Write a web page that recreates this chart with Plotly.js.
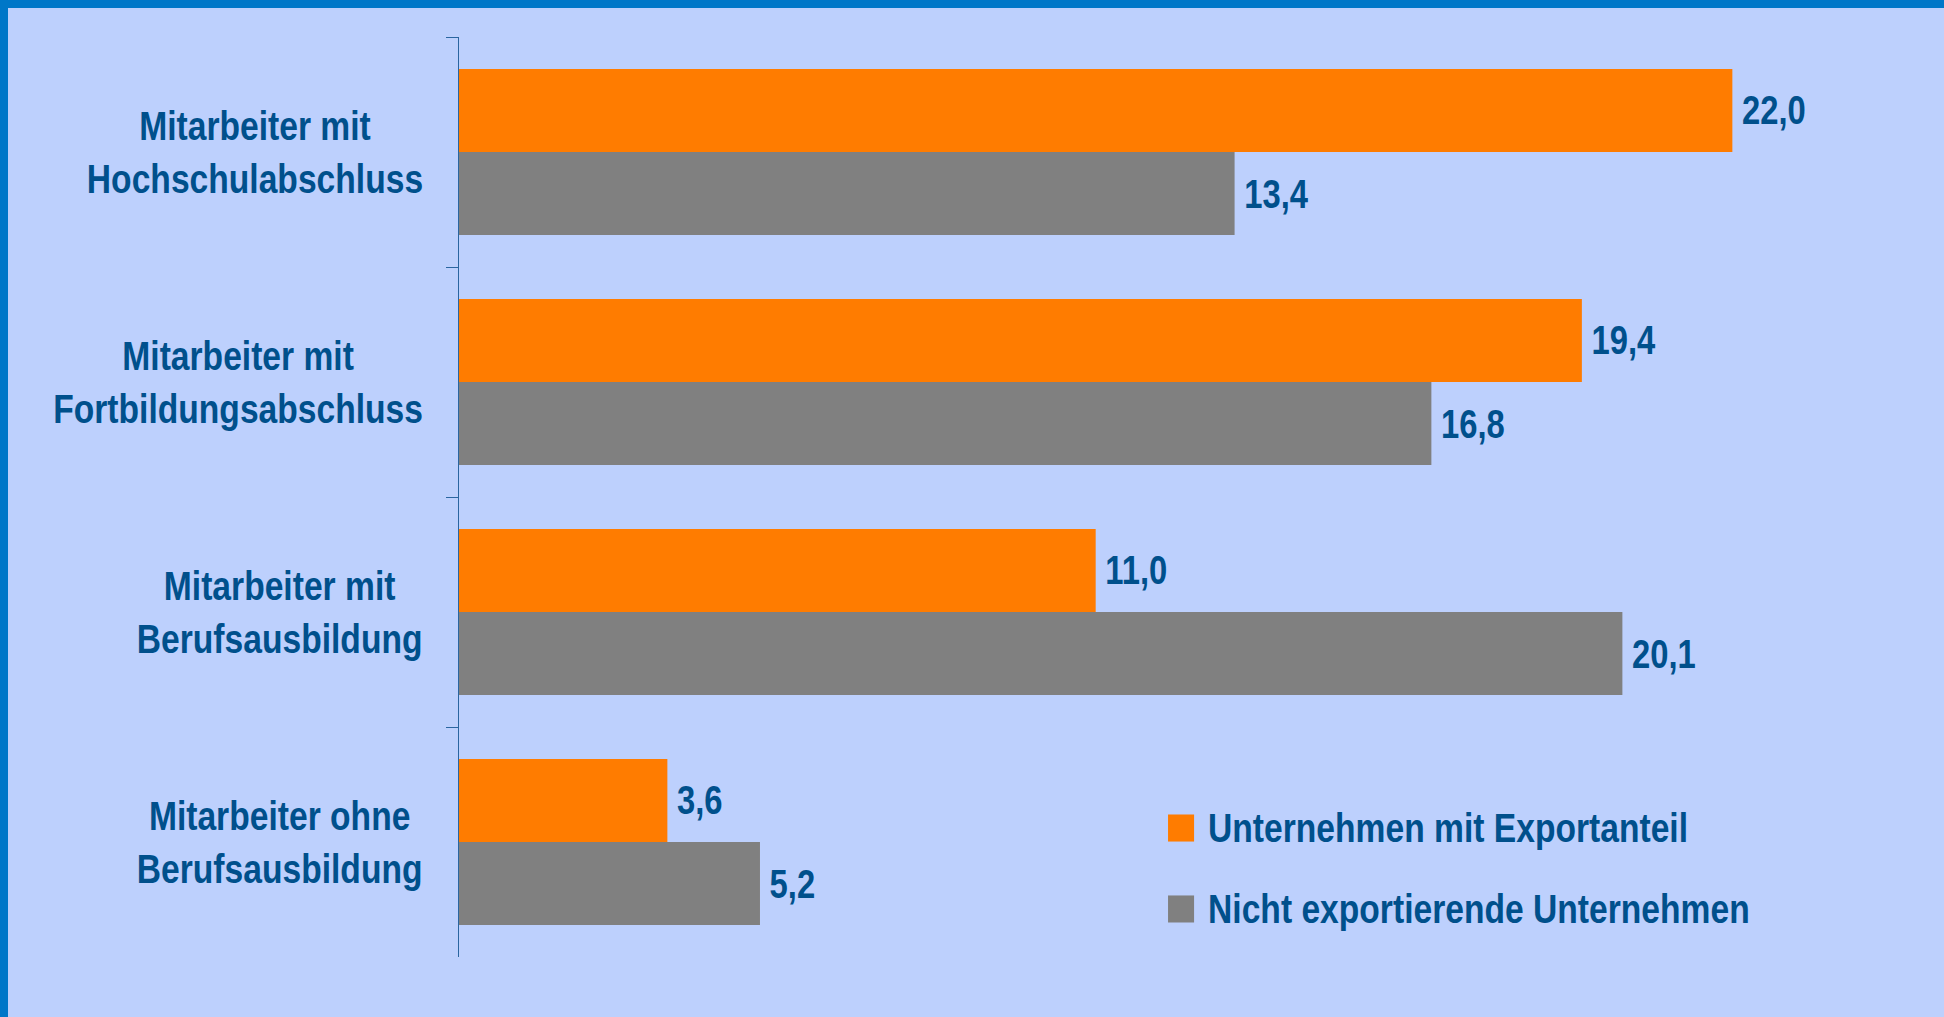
<!DOCTYPE html>
<html>
<head>
<meta charset="utf-8">
<script src="https://cdn.plot.ly/plotly-3.0.1.min.js"></script>
<style>
  html, body { margin: 0; padding: 0; background: #BDD0FD; }
  #wrap { position: relative; width: 1944px; height: 1017px; overflow: hidden; }
  #plot { position: absolute; left: 0; top: 0; width: 1944px; height: 1017px; }
  .edge { position: absolute; background: #0077C8; }
</style>
</head>
<body>
<div id="wrap">
  <div id="plot"></div>
  <div class="edge" style="left:0;top:0;width:1944px;height:8px;"></div>
  <div class="edge" style="left:0;top:0;width:8px;height:1017px;"></div>
</div>
<script>
var categories = ['Hochschulabschluss', 'Fortbildungsabschluss', 'Berufsausbildung', 'ohne Berufsausbildung'];
var categoryLabels = [
  'Mitarbeiter mit<br>Hochschulabschluss',
  'Mitarbeiter mit<br>Fortbildungsabschluss',
  'Mitarbeiter mit<br>Berufsausbildung',
  'Mitarbeiter ohne<br>Berufsausbildung'
];
var exportValues = [22.0, 19.4, 11.0, 3.6];
var nonExportValues = [13.4, 16.8, 20.1, 5.2];
var seriesNames = ['Unternehmen mit Exportanteil', 'Nicht exportierende Unternehmen'];
var seriesColors = ['#FF7C00', '#808080'];

var fontFam = '"Liberation Sans", Arial, sans-serif';
var textBlue = '#00508C';
var NARROW = 0.82; // fake Arial Narrow by squeezing the text

function barTrace(vals, i) {
  return {
    type: 'bar',
    orientation: 'h',
    y: categories,
    x: vals,
    name: seriesNames[i],
    marker: { color: seriesColors[i] },
    texttemplate: '\u2009%{x:.1f}',
    textposition: 'outside',
    constraintext: 'none',
    cliponaxis: false,
    textfont: { family: fontFam, size: 40, color: textBlue, weight: 'bold' },
    hoverinfo: 'none'
  };
}

// category labels, lines centred like the original
var annots = categories.map(function (c, i) {
  return {
    xref: 'paper', yref: 'y', x: 0, y: c,
    xanchor: 'right', yanchor: 'middle', xshift: -34,
    align: 'center', showarrow: false,
    text: categoryLabels[i],
    font: { family: fontFam, size: 41, color: textBlue, weight: 'bold' }
  };
});

// hand-made legend (bigger swatches than plotly's)
var legendRows = [0.1402, 0.0522];
var shapes = [];
seriesNames.forEach(function (n, i) {
  annots.push({
    xref: 'paper', yref: 'paper', x: 0.5162, y: legendRows[i],
    xanchor: 'left', yanchor: 'middle', showarrow: false,
    text: n,
    font: { family: fontFam, size: 41, color: textBlue, weight: 'bold' }
  });
  shapes.push({
    type: 'rect', xref: 'paper', yref: 'paper',
    x0: 0.490, x1: 0.508,
    y0: legendRows[i] - 0.0147, y1: legendRows[i] + 0.0147,
    fillcolor: seriesColors[i], line: { width: 0 }
  });
});

var layout = {
  width: 1944,
  height: 1017,
  margin: { l: 459, r: 38, t: 37, b: 60 },
  paper_bgcolor: 'rgba(0,0,0,0)',
  plot_bgcolor: 'rgba(0,0,0,0)',
  barmode: 'group',
  bargap: 0.278,
  bargroupgap: 0,
  separators: ',.',
  showlegend: false,
  font: { family: fontFam, color: textBlue },
  xaxis: {
    range: [0, 25],
    visible: false,
    fixedrange: true
  },
  yaxis: {
    autorange: 'reversed',
    showticklabels: false,
    ticks: 'outside',
    tickson: 'boundaries',
    ticklen: 12,
    tickcolor: '#2A65A0',
    showline: true,
    linecolor: '#2A65A0',
    linewidth: 1,
    showgrid: false,
    zeroline: false,
    fixedrange: true
  },
  annotations: annots,
  shapes: shapes
};

function squeeze(el, anchorRight) {
  var bb = el.getBBox();
  var ax = anchorRight ? bb.x + bb.width : bb.x;
  var t = el.getAttribute('transform') || '';
  el.setAttribute('transform', t + ' translate(' + ax + ',0) scale(' + NARROW + ',1) translate(' + (-ax) + ',0)');
}

Plotly.newPlot('plot', [barTrace(exportValues, 0), barTrace(nonExportValues, 1)], layout,
  { displayModeBar: false, staticPlot: true }).then(function (gd) {
  gd.querySelectorAll('text.bartext').forEach(function (el) { squeeze(el, false); });
  gd.querySelectorAll('g.annotation').forEach(function (g, i) {
    var el = g.querySelector('text.annotation-text');
    if (el) squeeze(el, i < categories.length);
  });
});
</script>
</body>
</html>
